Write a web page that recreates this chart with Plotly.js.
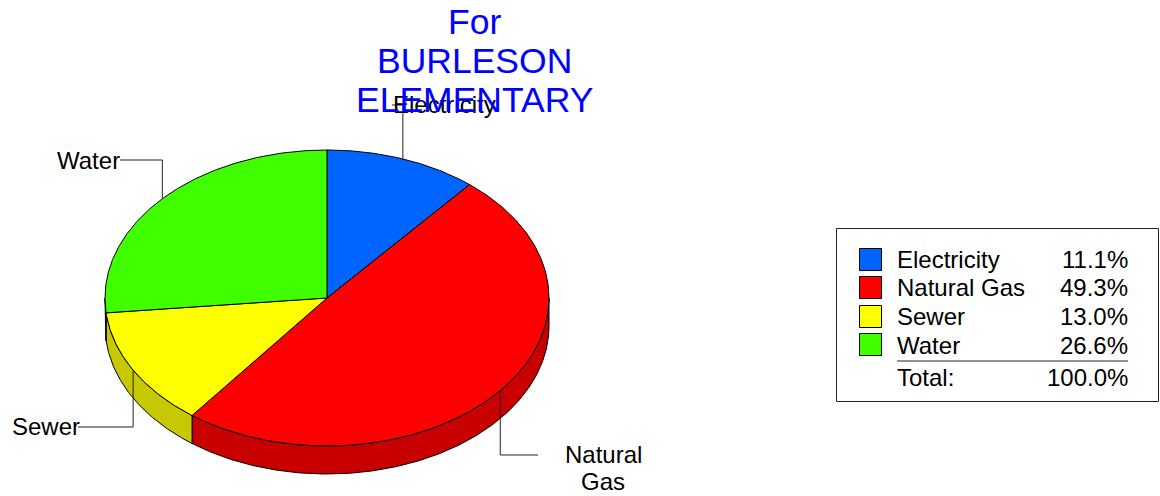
<!DOCTYPE html>
<html>
<head>
<meta charset="utf-8">
<script src="https://cdn.plot.ly/plotly-3.0.1.min.js"></script>
<style>html,body{margin:0;padding:0;background:#fff;overflow:hidden}#chart{width:1160px;height:496px}</style>
</head>
<body>
<div id="chart"></div>
<script>
// Data
const categories = ['Electricity', 'Natural Gas', 'Sewer', 'Water'];
const shares = [11.1, 49.3, 13.0, 26.6];
const titleLines = ['For', 'BURLESON', 'ELEMENTARY'];
const totalLabel = 'Total:';
const totalValue = '100.0%';

// Style
const topColors = ['#0064FF', '#FF0000', '#FFFF00', '#40FF00'];
const sideColors = ['#0050C8', '#C80000', '#C8C800', '#33C800'];
const FONT = '"Liberation Sans", Arial, sans-serif';

// Geometry (the axes run in page pixels)
const cx = 327, cy = 298, rx = 222, ry = 148, depth = 28;
const px = a => cx + rx * Math.sin(a * Math.PI / 180);
const py = a => cy - ry * Math.cos(a * Math.PI / 180);
function arc(a0, a1) {
  const out = [], n = Math.max(2, Math.ceil(Math.abs(a1 - a0) / 0.5));
  for (let i = 0; i <= n; i++) out.push(a0 + (a1 - a0) * i / n);
  return out;
}

const traces = [];
function poly(xs, ys, fill) {
  traces.push({type: 'scatter', mode: 'lines', x: xs, y: ys, fill: 'toself', fillcolor: fill,
    line: {color: '#000', width: 1}, hoverinfo: 'skip', showlegend: false});
}
function line(xs, ys) {
  traces.push({type: 'scatter', mode: 'lines', x: xs, y: ys,
    line: {color: '#222', width: 1}, hoverinfo: 'skip', showlegend: false});
}

// Slice angles, clockwise from 12 o'clock
const total = shares.reduce((s, v) => s + v, 0);
let run = 0;
const slices = shares.map((v, i) => {
  const a0 = run / total * 360; run += v; const a1 = run / total * 360;
  return {a0, a1, mid: (a0 + a1) / 2, i};
});

// Rim: only the front half shows
slices.forEach(s => {
  const a0 = Math.max(s.a0, 90), a1 = Math.min(s.a1, 270);
  if (a1 <= a0) return;
  const as = arc(a0, a1);
  const xs = as.map(px).concat(as.slice().reverse().map(px));
  const ys = as.map(py).concat(as.slice().reverse().map(a => py(a) + depth));
  xs.push(xs[0]); ys.push(ys[0]);
  poly(xs, ys, sideColors[s.i]);
});
// Top face
slices.forEach(s => {
  const as = arc(s.a0, s.a1);
  poly([cx].concat(as.map(px), [cx]), [cy].concat(as.map(py), [cy]), topColors[s.i]);
});

// Leader lines start on the top face at each slice's middle angle
const elbow = [
  {endX: 392, endY: 105},
  {endX: 538, endY: 455},
  {endX: 78, endY: 427},
  {endX: 120, endY: 160}
];
slices.forEach(s => {
  const x = px(s.mid), y = py(s.mid), e = elbow[s.i];
  line([x, x, e.endX], [y, e.endY, e.endY]);
});

const annotations = [];
function text(t, x, y, size, color, anchor) {
  annotations.push({text: t, x, y, xref: 'x', yref: 'y', xanchor: anchor || 'center', yanchor: 'middle',
    showarrow: false, font: {family: FONT, size, color}, borderpad: 0, borderwidth: 0});
}

// Pie labels
text(categories[0], 444, 104, 24, '#000');
text('Natural', 603, 454, 24, '#000');
text('Gas', 603, 481, 24, '#000');
text(categories[2], 12, 426, 24, '#000', 'left');
text(categories[3], 57, 160, 24, '#000', 'left');

// Title, painted over the labels
const titleY = [22, 61, 100];
titleLines.forEach((t, i) => text(t, 474.5, titleY[i], 35.5, '#0000FF'));

// Legend
const shapes = [{type: 'rect', xref: 'x', yref: 'y', x0: 836.5, x1: 1158.5, y0: 228.5, y1: 401.5,
  line: {color: '#222', width: 1}, fillcolor: 'rgba(0,0,0,0)'}];
const rowY = [259, 287, 316, 345];
const swatchTop = [248, 276, 305, 333];
categories.forEach((c, i) => {
  shapes.push({type: 'rect', xref: 'x', yref: 'y', x0: 859.5, x1: 881.5, y0: swatchTop[i] + 0.5, y1: swatchTop[i] + 22.5,
    line: {color: '#000', width: 1}, fillcolor: topColors[i]});
  text(c, 896.5, rowY[i], 24, '#000', 'left');
  text(shares[i].toFixed(1) + '%', 1127.5, rowY[i], 24, '#000', 'right');
});
shapes.push({type: 'line', xref: 'x', yref: 'y', x0: 897, x1: 1128, y0: 361, y1: 361, line: {color: '#222', width: 1}});
text(totalLabel, 896.5, 377, 24, '#000', 'left');
text(totalValue, 1127.5, 377, 24, '#000', 'right');

const hidden = {visible: false, showgrid: false, zeroline: false, fixedrange: true};
Plotly.newPlot('chart', traces, {
  width: 1160, height: 496,
  margin: {l: 0, r: 0, t: 0, b: 0},
  paper_bgcolor: '#fff', plot_bgcolor: '#fff',
  showlegend: false,
  xaxis: Object.assign({range: [0, 1160]}, hidden),
  yaxis: Object.assign({range: [496, 0]}, hidden),
  shapes, annotations
}, {displayModeBar: false, staticPlot: true});
</script>
</body>
</html>
